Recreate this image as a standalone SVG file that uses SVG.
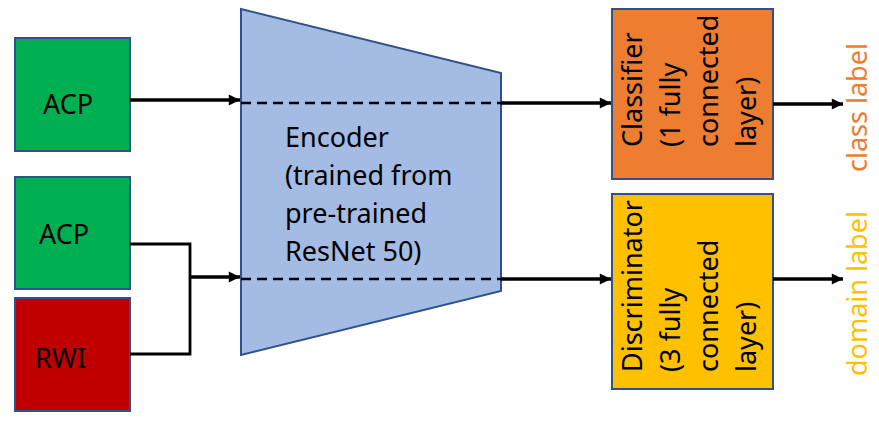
<svg xmlns="http://www.w3.org/2000/svg" width="879" height="424" viewBox="0 0 879 424">
<style>
text{font-family:"Noto Sans","Open Sans",sans-serif;font-size:27px;fill:#000}
.box{stroke:#2F528F;stroke-width:2}
.ln{stroke:#000;stroke-width:3.5;fill:none}
.br{stroke:#000;stroke-width:2.8;fill:none}
.dash{stroke:#000;stroke-width:2.5;stroke-dasharray:10 6;fill:none}
</style>
<defs>
<marker id="ah" viewBox="0 0 10 10" refX="10" refY="5" markerWidth="3.6" markerHeight="3.2" markerUnits="strokeWidth" orient="auto">
<path d="M0,0 L10,5 L0,10 Z" fill="#000"/>
</marker>
</defs>
<rect width="879" height="424" fill="#fff"/>
<g id="acp1"><rect class="box" x="15" y="38" width="115" height="113" fill="#00B050"/><text x="43" y="114">ACP</text></g>
<g id="acp2"><rect class="box" x="15" y="177" width="115" height="112" fill="#00B050"/><text x="39" y="244">ACP</text></g>
<g id="rwi"><rect class="box" x="15" y="298" width="115" height="113" fill="#C00000"/><text x="35" y="368">RWI</text></g>
<g id="encoder"><path class="box" d="M241,9 L501,73 L501,291 L241,355 Z" fill="#A4BCE3"/>
<text x="285" y="147">Encoder</text><text x="285" y="185">(trained from</text><text x="285" y="223">pre-trained</text><text x="285" y="261">ResNet 50)</text></g>
<g id="classifier"><rect class="box" x="612" y="9" width="161" height="170" fill="#ED7D31"/>
<text transform="translate(642,147) rotate(-90)">Classifier</text>
<text transform="translate(680,147) rotate(-90)">(1 fully</text>
<text transform="translate(718,147) rotate(-90)">connected</text>
<text transform="translate(756,147) rotate(-90)">layer)</text></g>
<g id="discriminator"><rect class="box" x="612" y="194" width="161" height="195" fill="#FFC000"/>
<text transform="translate(642,372) rotate(-90)">Discriminator</text>
<text transform="translate(680,372) rotate(-90)">(3 fully</text>
<text transform="translate(718,372) rotate(-90)">connected</text>
<text transform="translate(756,372) rotate(-90)">layer)</text></g>
<g id="classlabel"><text transform="translate(867,172) rotate(-90)" style="fill:#ED7D31">class label</text></g>
<g id="domainlabel"><text transform="translate(867,376) rotate(-90)" style="fill:#FFC000">domain label</text></g>
<g id="connectors">
<line class="ln" x1="130" y1="100" x2="240" y2="100" marker-end="url(#ah)"/>
<polyline class="br" points="130,244 190,244 190,354 130,354"/>
<line class="ln" x1="190" y1="277" x2="240" y2="277" marker-end="url(#ah)"/>
<line class="dash" x1="241" y1="103" x2="501" y2="103"/>
<line class="dash" x1="241" y1="279" x2="501" y2="279"/>
<line class="ln" x1="501" y1="103" x2="611" y2="103" marker-end="url(#ah)"/>
<line class="ln" x1="501" y1="279" x2="611" y2="279" marker-end="url(#ah)"/>
<line class="ln" x1="773" y1="104" x2="843" y2="104" marker-end="url(#ah)"/>
<line class="ln" x1="773" y1="279" x2="843" y2="279" marker-end="url(#ah)"/>
</g>
</svg>
